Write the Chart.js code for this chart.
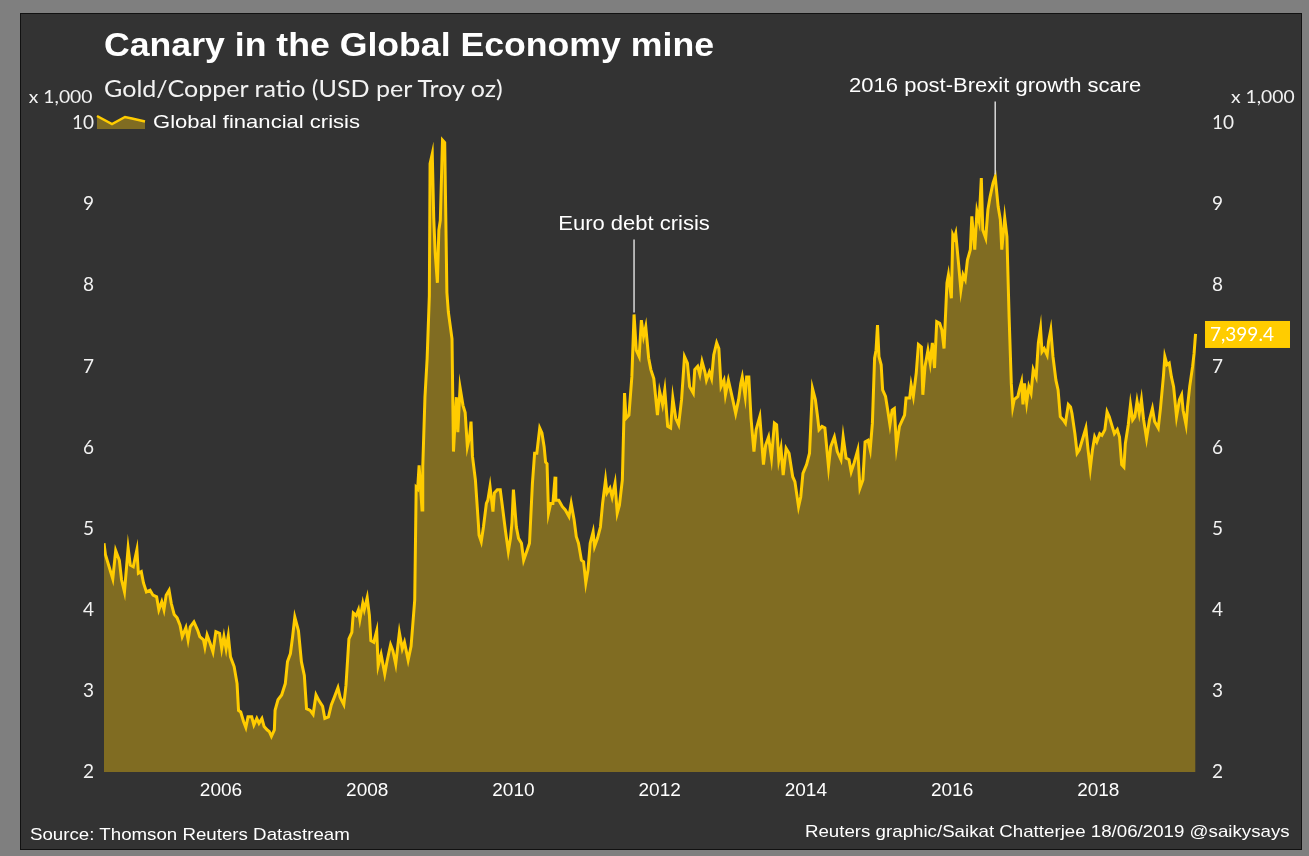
<!DOCTYPE html>
<html lang="en">
<head>
<meta charset="UTF-8">
<title>Canary in the Global Economy mine</title>
<script src="https://cdn.jsdelivr.net/npm/chart.js@4.4.1/dist/chart.umd.min.js"></script>
<style>
  body { margin: 0; width: 1309px; height: 856px; background: #7f7f7f; overflow: hidden; position: relative; font-family: "Liberation Sans", Arial, sans-serif; }
  #panel { position: absolute; left: 20px; top: 13px; width: 1282px; height: 837px; background: #333333; border: 1px solid #111; box-sizing: border-box; }
  #chart { position: absolute; left: 0; top: 0; }
  .txt { position: absolute; color: #fff; white-space: nowrap; line-height: 1; }
  #title { left: 104px; top: 28px; font-weight: bold; font-size: 33px; transform: scaleX(1.08); transform-origin: left center; }
  #subtitle { left: 104px; top: 77px; font-family: Lato, sans-serif; font-size: 23px; color: #f2f2f2; transform: scaleX(1.09); transform-origin: left center; }
  .unit { top: 87px; font-family: Lato, sans-serif; font-size: 18px; color: #f2f2f2; transform: scaleX(1.07); }
  #unitL { right: calc(1309px - 92px); transform-origin: right center; }
  #unitR { left: 1231px; transform-origin: left center; }
  #legend { left: 153px; top: 112px; font-size: 19px; transform: scaleX(1.16); transform-origin: left center; }
  #source { left: 30px; top: 826px; font-size: 17px; transform: scaleX(1.1); transform-origin: left center; }
  #credit { right: 19px; top: 823px; font-size: 17px; transform: scaleX(1.1); transform-origin: right center; }
</style>
</head>
<body>
<div id="panel"></div>
<canvas id="chart" width="1309" height="856"></canvas>
<div class="txt" id="title">Canary in the Global Economy mine</div>
<div class="txt" id="subtitle">Gold/Copper ratio (USD per Troy oz)</div>
<div class="txt unit" id="unitL">x 1,000</div>
<div class="txt unit" id="unitR">x 1,000</div>
<div class="txt" id="legend">Global financial crisis</div>
<div class="txt" id="source">Source: Thomson Reuters Datastream</div>
<div class="txt" id="credit">Reuters graphic/Saikat Chatterjee 18/06/2019 @saikysays</div>
<script>
// weekly observations, as decimal years
const weeks = [
  2004.40, 2004.42, 2004.47, 2004.52, 2004.56, 2004.61, 2004.64, 2004.68, 2004.73, 2004.76, 2004.80, 2004.85, 2004.87, 2004.91, 2004.94, 2004.98,
  2005.03, 2005.07, 2005.12, 2005.15, 2005.19, 2005.22, 2005.25, 2005.29, 2005.32, 2005.36, 2005.40, 2005.44, 2005.47, 2005.52, 2005.55, 2005.58,
  2005.63, 2005.68, 2005.71, 2005.76, 2005.78, 2005.81, 2005.85, 2005.89, 2005.93, 2005.98,
  2006.01, 2006.04, 2006.07, 2006.10, 2006.13, 2006.18, 2006.22, 2006.24, 2006.27, 2006.31, 2006.34, 2006.37, 2006.42, 2006.45, 2006.49, 2006.52,
  2006.56, 2006.59, 2006.63, 2006.66, 2006.69, 2006.73, 2006.74, 2006.78, 2006.83, 2006.88, 2006.91, 2006.95, 2006.98,
  2007.01, 2007.06, 2007.10, 2007.14, 2007.17, 2007.22, 2007.26, 2007.30, 2007.34, 2007.39, 2007.42, 2007.47, 2007.51, 2007.55, 2007.60, 2007.63,
  2007.68, 2007.71, 2007.75, 2007.79, 2007.81, 2007.85, 2007.88, 2007.90, 2007.94, 2007.96,
  2008.00, 2008.03, 2008.05, 2008.09, 2008.13, 2008.15, 2008.19, 2008.24, 2008.27, 2008.32, 2008.35, 2008.39, 2008.44, 2008.48, 2008.51, 2008.56,
  2008.60, 2008.65, 2008.67, 2008.69, 2008.71, 2008.75, 2008.76, 2008.79, 2008.82, 2008.85, 2008.86, 2008.89, 2008.91, 2008.93, 2008.96, 2008.98,
  2009.00, 2009.03, 2009.06, 2009.09, 2009.11, 2009.16, 2009.18, 2009.22, 2009.24, 2009.27, 2009.31, 2009.34, 2009.37, 2009.40, 2009.42, 2009.44,
  2009.48, 2009.52, 2009.53, 2009.56, 2009.59, 2009.63, 2009.65, 2009.68, 2009.72, 2009.74, 2009.78, 2009.82, 2009.85, 2009.89, 2009.93, 2009.96, 2009.98,
  2010.00, 2010.04, 2010.07, 2010.11, 2010.14, 2010.19, 2010.22, 2010.26, 2010.29, 2010.32, 2010.36, 2010.39, 2010.42, 2010.44, 2010.46, 2010.48,
  2010.51, 2010.54, 2010.57, 2010.58, 2010.62, 2010.67, 2010.71, 2010.76, 2010.79, 2010.83, 2010.86, 2010.89, 2010.93, 2010.96, 2010.99,
  2011.02, 2011.05, 2011.09, 2011.11, 2011.15, 2011.19, 2011.22, 2011.26, 2011.28, 2011.32, 2011.35, 2011.39, 2011.42, 2011.45, 2011.49, 2011.52,
  2011.54, 2011.58, 2011.62, 2011.65, 2011.68, 2011.72, 2011.75, 2011.78, 2011.81, 2011.85, 2011.88, 2011.92, 2011.97,
  2012.00, 2012.04, 2012.07, 2012.11, 2012.15, 2012.18, 2012.22, 2012.26, 2012.30, 2012.34, 2012.38, 2012.41, 2012.46, 2012.48, 2012.52, 2012.55,
  2012.58, 2012.62, 2012.64, 2012.68, 2012.71, 2012.74, 2012.78, 2012.81, 2012.84, 2012.88, 2012.90, 2012.94, 2012.97,
  2013.00, 2013.04, 2013.08, 2013.11, 2013.13, 2013.17, 2013.19, 2013.22, 2013.25, 2013.29, 2013.32, 2013.37, 2013.42, 2013.45, 2013.49, 2013.53,
  2013.57, 2013.60, 2013.63, 2013.66, 2013.69, 2013.73, 2013.77, 2013.82, 2013.85, 2013.90, 2013.93, 2013.96,
  2014.01, 2014.05, 2014.09, 2014.13, 2014.16, 2014.18, 2014.22, 2014.26, 2014.31, 2014.34, 2014.39, 2014.43, 2014.48, 2014.51, 2014.55, 2014.59,
  2014.62, 2014.66, 2014.71, 2014.74, 2014.78, 2014.81, 2014.85, 2014.88, 2014.91, 2014.94, 2014.96, 2014.98,
  2015.00, 2015.03, 2015.05, 2015.09, 2015.12, 2015.15, 2015.18, 2015.21, 2015.24, 2015.28, 2015.32, 2015.35, 2015.37, 2015.42, 2015.44, 2015.47,
  2015.51, 2015.54, 2015.58, 2015.60, 2015.63, 2015.67, 2015.70, 2015.73, 2015.76, 2015.79, 2015.83, 2015.86, 2015.89, 2015.93, 2015.95, 2015.99,
  2016.01, 2016.03, 2016.05, 2016.09, 2016.12, 2016.15, 2016.18, 2016.21, 2016.25, 2016.27, 2016.31, 2016.34, 2016.37, 2016.40, 2016.42, 2016.46,
  2016.49, 2016.52, 2016.56, 2016.59, 2016.63, 2016.66, 2016.68, 2016.72, 2016.75, 2016.78, 2016.81, 2016.83, 2016.85, 2016.90, 2016.92, 2016.95,
  2016.97, 2016.99,
  2017.02, 2017.05, 2017.08, 2017.11, 2017.15, 2017.18, 2017.21, 2017.23, 2017.26, 2017.30, 2017.32, 2017.35, 2017.38, 2017.42, 2017.45, 2017.48,
  2017.52, 2017.55, 2017.59, 2017.62, 2017.64, 2017.68, 2017.71, 2017.74, 2017.78, 2017.83, 2017.86, 2017.89, 2017.92, 2017.95, 2017.98,
  2018.02, 2018.05, 2018.09, 2018.12, 2018.15, 2018.19, 2018.22, 2018.26, 2018.29, 2018.32, 2018.35, 2018.37, 2018.41, 2018.44, 2018.47, 2018.50,
  2018.53, 2018.56, 2018.59, 2018.62, 2018.66, 2018.70, 2018.74, 2018.77, 2018.82, 2018.85, 2018.89, 2018.91, 2018.94, 2018.97,
  2019.00, 2019.03, 2019.07, 2019.11, 2019.14, 2019.16, 2019.20, 2019.22, 2019.25, 2019.29, 2019.31, 2019.33
];

// gold/copper ratio, thousands
const goldCopper = [
  4.82, 4.68, 4.53, 4.38, 4.73, 4.61, 4.37, 4.22, 4.76, 4.55, 4.53, 4.74, 4.45, 4.47, 4.33, 4.22,
  4.24, 4.18, 4.16, 4.00, 4.10, 4.00, 4.18, 4.24, 4.08, 3.94, 3.90, 3.81, 3.67, 3.78, 3.63, 3.79,
  3.85, 3.75, 3.67, 3.63, 3.54, 3.69, 3.59, 3.48, 3.73, 3.71,
  3.52, 3.67, 3.52, 3.68, 3.42, 3.30, 3.09, 2.76, 2.74, 2.62, 2.55, 2.68, 2.68, 2.58, 2.66, 2.60,
  2.66, 2.56, 2.52, 2.50, 2.44, 2.52, 2.76, 2.89, 2.95, 3.09, 3.36, 3.46, 3.67,
  3.91, 3.74, 3.36, 3.19, 2.78, 2.76, 2.71, 2.95, 2.88, 2.81, 2.66, 2.68, 2.83, 2.92, 3.04, 2.92,
  2.83, 3.07, 3.64, 3.72, 3.96, 3.93, 4.00, 3.88, 4.08, 4.00,
  4.15, 3.93, 3.62, 3.60, 3.74, 3.31, 3.45, 3.21, 3.36, 3.57, 3.50, 3.33, 3.72, 3.52, 3.60, 3.38,
  3.55, 4.12, 5.51, 5.49, 5.78, 5.23, 5.76, 6.62, 7.10, 7.87, 9.50, 9.62, 8.83, 8.40, 8.03, 8.68,
  8.80, 9.79, 9.76, 7.91, 7.67, 7.34, 5.95, 6.62, 6.19, 6.74, 6.52, 6.43, 6.01, 6.13, 6.32, 5.89,
  5.60, 5.07, 4.92, 4.84, 5.02, 5.31, 5.35, 5.52, 5.21, 5.44, 5.48, 5.48, 5.27, 4.98, 4.72, 4.88, 5.07,
  5.48, 5.02, 4.88, 4.82, 4.61, 4.74, 4.82, 5.56, 5.93, 5.93, 6.24, 6.18, 6.01, 5.82, 5.80, 5.19,
  5.31, 5.31, 5.64, 5.35, 5.35, 5.27, 5.23, 5.15, 5.31, 5.11, 4.90, 4.82, 4.61, 4.59, 4.33,
  4.49, 4.82, 4.96, 4.78, 4.88, 5.02, 5.31, 5.60, 5.44, 5.50, 5.39, 5.56, 5.19, 5.29, 5.60, 6.67,
  6.36, 6.40, 6.87, 7.64, 7.20, 7.12, 7.57, 7.37, 7.49, 7.10, 6.96, 6.85, 6.40,
  6.69, 6.53, 6.71, 6.26, 6.24, 6.61, 6.36, 6.28, 6.59, 7.12, 7.04, 6.75, 6.67, 6.96, 7.00, 6.90,
  7.06, 6.93, 6.83, 6.93, 6.85, 7.14, 7.29, 7.22, 6.75, 6.83, 6.65, 6.83, 6.71,
  6.59, 6.42, 6.59, 6.79, 6.87, 6.63, 6.87, 6.87, 6.36, 5.95, 6.22, 6.38, 5.79, 6.03, 6.13, 5.87,
  6.30, 6.28, 5.85, 5.99, 5.66, 5.99, 5.93, 5.64, 5.58, 5.27, 5.39, 5.68,
  5.79, 5.93, 6.73, 6.59, 6.38, 6.22, 6.26, 6.24, 5.76, 6.01, 6.13, 5.95, 5.85, 6.13, 5.87, 5.85,
  5.70, 5.81, 5.97, 5.50, 5.60, 6.07, 6.09, 5.97, 6.30, 7.10, 7.20, 7.51,
  7.12, 7.02, 6.71, 6.63, 6.46, 6.28, 6.46, 6.48, 6.01, 6.26, 6.34, 6.40, 6.61, 6.61, 6.77, 6.63,
  6.92, 7.27, 7.24, 6.65, 7.00, 7.20, 7.04, 7.29, 6.98, 7.55, 7.53, 7.45, 7.22, 8.03, 8.13, 7.84,
  8.62, 8.58, 8.64, 8.25, 7.94, 8.13, 8.07, 8.31, 8.44, 8.85, 8.44, 8.91, 8.79, 9.32, 8.68, 8.58,
  8.93, 9.09, 9.26, 9.34, 8.97, 8.81, 8.44, 8.83, 8.60, 7.61, 6.79, 6.50, 6.59, 6.63, 6.71, 6.81,
  6.53, 6.79,
  6.55, 6.75, 6.67, 6.96, 6.87, 7.29, 7.47, 7.18, 7.22, 7.14, 7.31, 7.45, 7.12, 6.83, 6.71, 6.38,
  6.34, 6.30, 6.53, 6.50, 6.42, 6.17, 5.93, 5.97, 6.09, 6.24, 5.97, 5.74, 5.97, 6.13, 6.07,
  6.17, 6.15, 6.22, 6.44, 6.38, 6.26, 6.17, 6.22, 6.13, 5.79, 5.76, 6.05, 6.28, 6.53, 6.34, 6.38,
  6.57, 6.42, 6.59, 6.34, 6.11, 6.34, 6.48, 6.32, 6.24, 6.48, 6.87, 7.12, 7.02, 7.04,
  6.87, 6.75, 6.38, 6.59, 6.65, 6.46, 6.28, 6.50, 6.75, 7.00, 7.16, 7.3994
];

const yearTicks = [2006, 2008, 2010, 2012, 2014, 2016, 2018];
const ratioTicks = [2, 3, 4, 5, 6, 7, 8, 9, 10];

// call-outs pinned to a week in the series
const events = [
  { label: 'Euro debt crisis', week: 2011.65 },
  { label: '2016 post-Brexit growth scare', week: 2016.59 }
];

const GOLD = '#FFCC00';
const OLIVE = '#806C22';

const overlay = {
  id: 'overlay',
  afterDatasetsDraw(chart) {
    const { ctx, scales: { x, y }, chartArea } = chart;
    ctx.save();

    events.forEach(ev => {
      const i = weeks.indexOf(ev.week);
      const px = x.getPixelForValue(ev.week);
      const py = y.getPixelForValue(goldCopper[i]);
      const ty = py - 90;
      ctx.strokeStyle = '#d9d9d9';
      ctx.lineWidth = 1.5;
      ctx.beginPath();
      ctx.moveTo(px, ty + 15);
      ctx.lineTo(px, py - 2);
      ctx.stroke();
      ctx.save();
      ctx.translate(px, ty);
      ctx.scale(1.1, 1);
      ctx.font = '20px "Liberation Sans"';
      ctx.fillStyle = '#fff';
      ctx.textAlign = 'center';
      ctx.textBaseline = 'middle';
      ctx.fillText(ev.label, 0, 0);
      ctx.restore();
    });

    // latest reading tag on the right axis
    const last = goldCopper[goldCopper.length - 1];
    const ly = y.getPixelForValue(last);
    const bx = chartArea.right + 8;
    ctx.fillStyle = GOLD;
    ctx.fillRect(bx, ly - 13, 85, 27);
    ctx.fillStyle = '#fff';
    ctx.font = '19px Lato';
    ctx.textAlign = 'left';
    ctx.textBaseline = 'middle';
    ctx.fillText((last * 1000).toLocaleString('en-US', { minimumFractionDigits: 1, maximumFractionDigits: 1 }), bx + 5, ly + 1);

    // legend swatch
    const sw = [[97, 116], [112, 124], [125, 117], [132, 118.5], [145, 121.5]];
    ctx.beginPath();
    ctx.moveTo(sw[0][0], sw[0][1]);
    sw.slice(1).forEach(p => ctx.lineTo(p[0], p[1]));
    ctx.lineTo(145, 129);
    ctx.lineTo(97, 129);
    ctx.closePath();
    ctx.fillStyle = OLIVE;
    ctx.fill();
    ctx.beginPath();
    ctx.moveTo(sw[0][0], sw[0][1]);
    sw.slice(1).forEach(p => ctx.lineTo(p[0], p[1]));
    ctx.strokeStyle = GOLD;
    ctx.lineWidth = 2.5;
    ctx.stroke();

    ctx.restore();
  }
};

const ratioAxis = (position, width, padding) => ({
  position,
  min: 2,
  max: 10,
  grid: { display: false, drawTicks: false },
  border: { display: false },
  afterBuildTicks: s => { s.ticks = ratioTicks.map(v => ({ value: v })); },
  afterFit: s => { s.width = width; },
  ticks: { color: '#f2f2f2', padding, font: { family: 'Lato', size: 19 }, callback: v => String(v) }
});

new Chart(document.getElementById('chart'), {
  type: 'line',
  data: {
    datasets: [{
      label: 'Global financial crisis',
      data: weeks.map((w, i) => ({ x: w, y: goldCopper[i] })),
      borderColor: GOLD,
      backgroundColor: OLIVE,
      borderWidth: 3,
      fill: 'start',
      pointRadius: 0,
      tension: 0
    }]
  },
  options: {
    responsive: false,
    animation: false,
    layout: { padding: { top: 123, left: 0, right: 0, bottom: 0 } },
    plugins: { legend: { display: false }, tooltip: { enabled: false } },
    scales: {
      x: {
        type: 'linear',
        min: 2004.40,
        max: 2019.35,
        grid: { display: false, drawTicks: false },
        border: { display: false },
        afterBuildTicks: s => { s.ticks = yearTicks.map(v => ({ value: v })); },
        afterFit: s => { s.height = 84; },
        ticks: { color: '#fff', padding: 7, maxRotation: 0, autoSkip: false, font: { family: 'Liberation Sans', size: 19 }, callback: v => String(v) }
      },
      y: ratioAxis('left', 104, 10),
      y2: ratioAxis('right', 112, 15)
    }
  },
  plugins: [overlay]
});
</script>
</body>
</html>
